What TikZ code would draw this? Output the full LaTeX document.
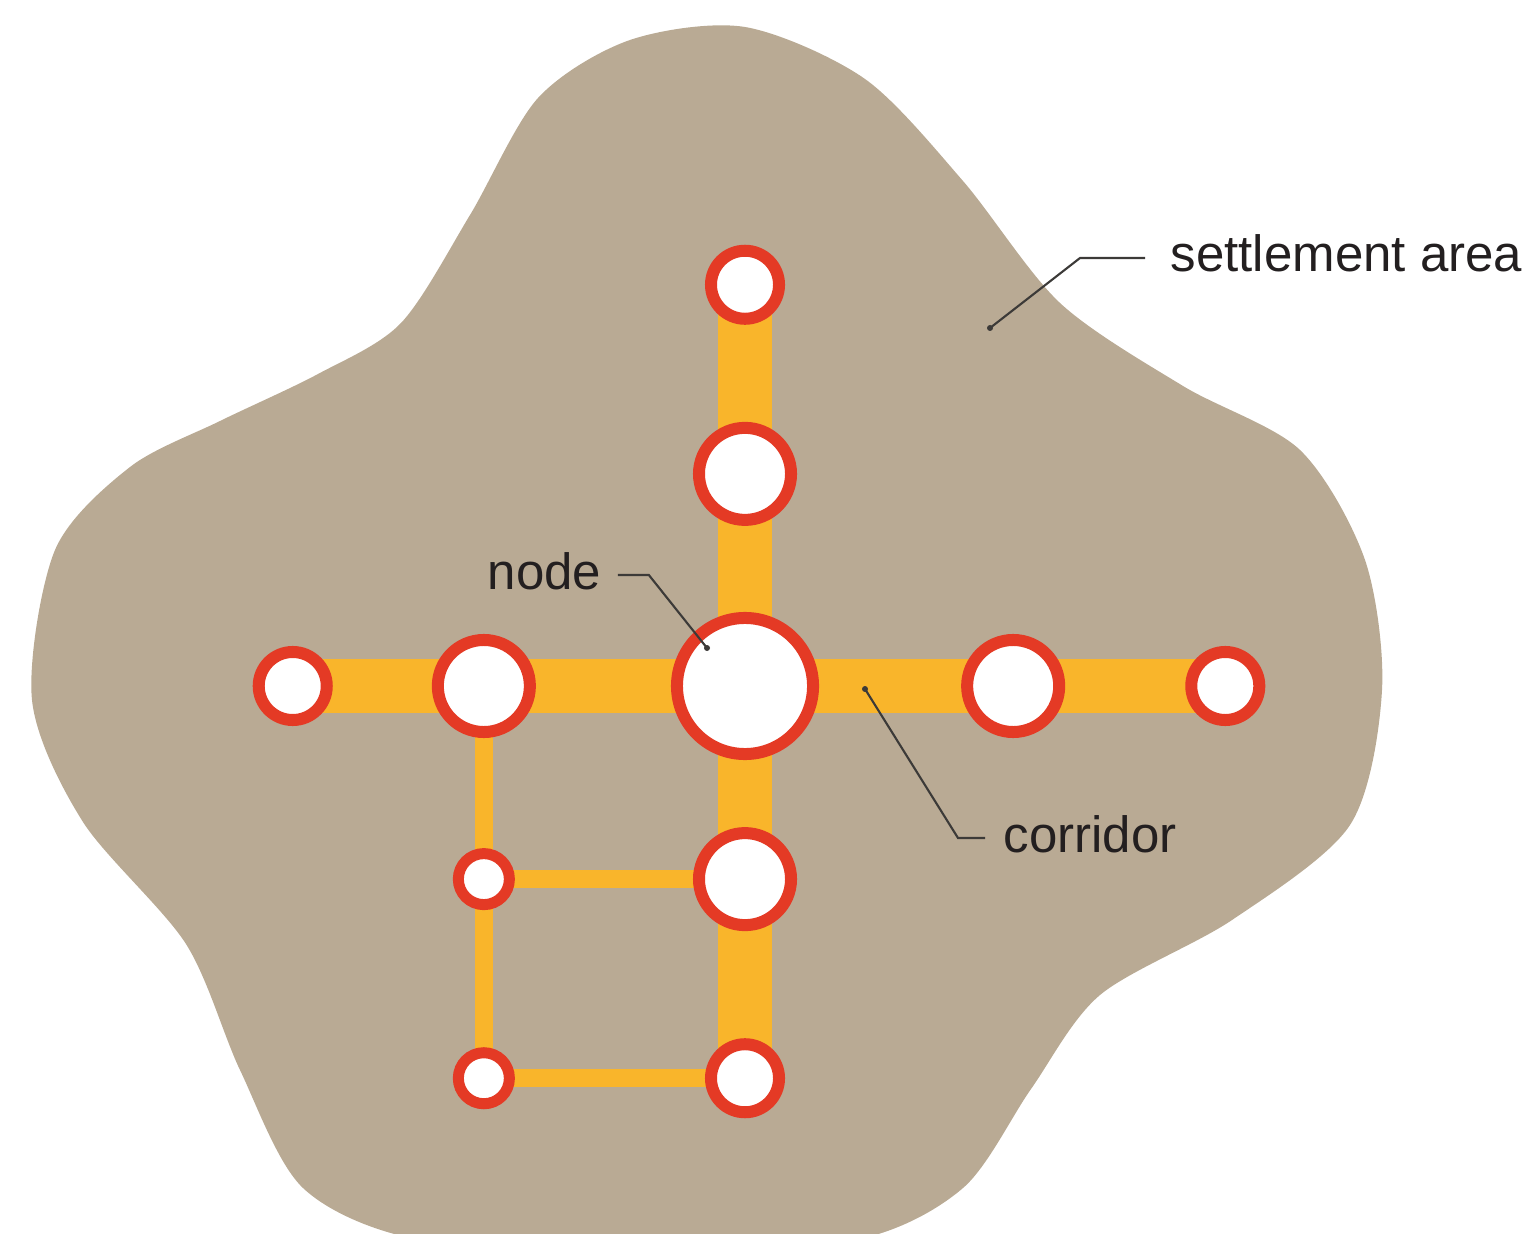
\documentclass[tikz,border=0pt]{standalone}
\usepackage{fontspec}
\setmainfont{Liberation Sans}
\usepackage{xcolor}
\usepackage{tikz}
\usetikzlibrary{shapes,arrows}
\definecolor{settlementbrown}{HTML}{B9AA94}
\definecolor{corridororange}{HTML}{F9B52B}
\definecolor{stationred}{HTML}{E43A25}
\definecolor{leadergray}{HTML}{3C3A38}
\definecolor{textblack}{HTML}{231F20}
\pgfdeclarelayer{ground}
\pgfdeclarelayer{corridors}
\pgfsetlayers{ground,corridors,main}
\tikzstyle{station} = [circle, draw=stationred, fill=white, line width=1.2mm, inner sep=0pt]
\tikzstyle{endstation} = [station, minimum size=6.8mm]
\tikzstyle{midstation} = [station, minimum size=9.2mm]
\tikzstyle{hubstation} = [station, minimum size=13.6mm]
\tikzstyle{minorstation} = [station, minimum size=5.1mm, line width=1.1mm]
\tikzstyle{widecorridor} = [draw=corridororange, line width=5.4mm]
\tikzstyle{narrowcorridor} = [draw=corridororange, line width=1.8mm]
\tikzstyle{leader} = [draw=leadergray, line width=0.6pt]
\tikzstyle{leaderdot} = [circle, fill=leadergray, inner sep=0pt, minimum size=0.6mm]
\tikzstyle{annotation} = [text=textblack, inner sep=0pt, anchor=base west,
    font=\fontsize{14.5}{17}\selectfont]

\begin{document}
\begin{tikzpicture}[x=0.01cm, y=-0.01cm]
    \useasboundingbox (0,0) rectangle (1534,1234);
    % Settlement area
    \begin{pgfonlayer}{ground}
    \clip (0,0) rectangle (1534,1234);
    \fill [settlementbrown] plot [smooth cycle, tension=0.5] coordinates {
        (745,27) (865,79) (963,181) (1060,303) (1183,386) (1300,450)
        (1365,560) (1382,690) (1350,825) (1232,920) (1100,995) (1031,1089)
        (963,1188) (855,1240) (640,1252) (420,1240) (303,1188) (240,1070)
        (186,944) (83,822) (32,700) (55,550) (130,467) (220,421) (318,374)
        (401,323) (470,215) (538,98) (630,40)};
    \end{pgfonlayer}

    % Place nodes
    \node [hubstation] (hub) at (745,686) {};
    \node [midstation, above of=hub, node distance=2.12cm] (upperMid) {};
    \node [endstation, above of=upperMid, node distance=1.89cm] (topEnd) {};
    \node [midstation, left of=hub, node distance=2.61cm] (westMid) {};
    \node [endstation, left of=westMid, node distance=1.91cm] (westEnd) {};
    \node [midstation, right of=hub, node distance=2.68cm] (eastMid) {};
    \node [endstation, right of=eastMid, node distance=2.12cm] (eastEnd) {};
    \node [midstation, below of=hub, node distance=1.93cm] (lowerMid) {};
    \node [endstation, below of=lowerMid, node distance=1.99cm] (bottomEnd) {};
    \node [minorstation, below of=westMid, node distance=1.93cm] (minorUpper) {};
    \node [minorstation, below of=minorUpper, node distance=1.99cm] (minorLower) {};

    % Corridors
    \begin{pgfonlayer}{corridors}
    \path [widecorridor] (westEnd.center) -- (eastEnd.center);
    \path [widecorridor] (topEnd.center) -- (bottomEnd.center);
    \path [narrowcorridor] (westMid.center) -- (minorLower.center);
    \path [narrowcorridor] (minorUpper.center) -- (lowerMid.center);
    \path [narrowcorridor] (minorLower.center) -- (bottomEnd.center);
    \end{pgfonlayer}

    % Labels
    \node [annotation] (settlementLabel) at (1170,272) {settlement area};
    \node [leaderdot] (settlementPoint) at (990,328) {};
    \path [leader] ([shift={(-25,-14)}]settlementLabel.base west) -- ++(-65,0) -- (settlementPoint.center);
    \node [annotation] (nodeLabel) at (487,590) {node};
    \node [leaderdot] (nodePoint) at (707,648) {};
    \path [leader] ([shift={(16,-15)}]nodeLabel.base east) -- ++(31,0) -- (nodePoint.center);
    \node [annotation] (corridorLabel) at (1003,852) {corridor};
    \node [leaderdot] (corridorPoint) at (865,689) {};
    \path [leader] ([shift={(-18,-14)}]corridorLabel.base west) -- ++(-27,0) -- (corridorPoint.center);
\end{tikzpicture}
\end{document}
